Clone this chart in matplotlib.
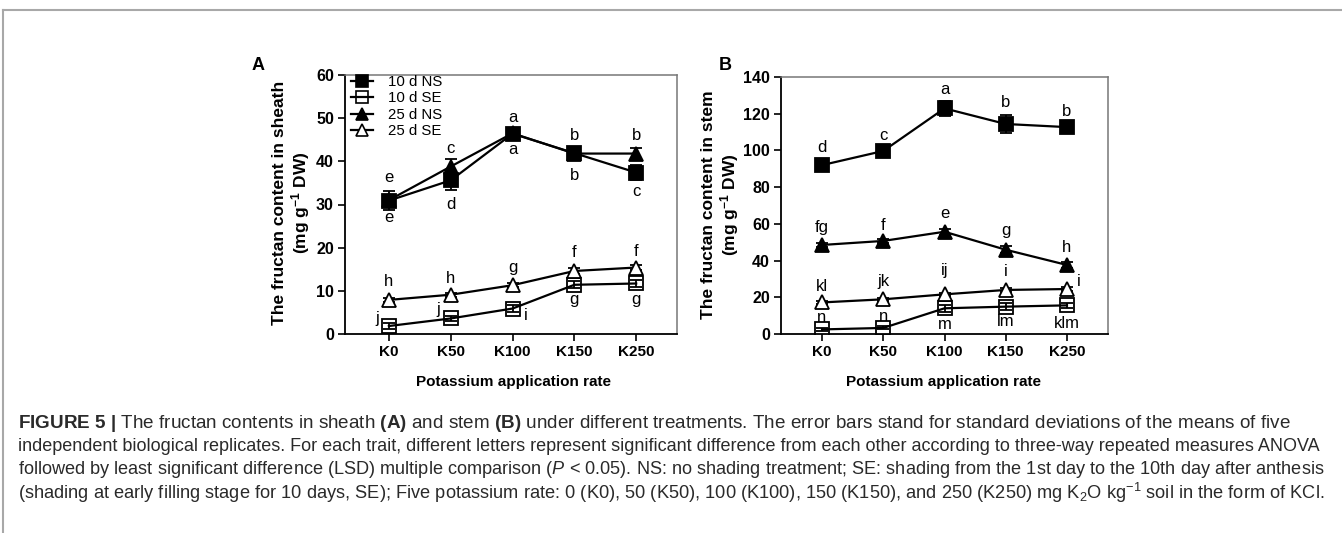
import matplotlib
matplotlib.use("Agg")
import matplotlib.pyplot as plt
from matplotlib.lines import Line2D
import numpy as np

plt.rcParams['font.family'] = ['Liberation Sans', 'DejaVu Sans']
plt.rcParams['mathtext.fontset'] = 'custom'
plt.rcParams['mathtext.rm'] = 'Liberation Sans'
plt.rcParams['mathtext.it'] = 'Liberation Sans:italic'
plt.rcParams['mathtext.bf'] = 'Liberation Sans:bold'

# datos
categorias = ["K0", "K50", "K100", "K150", "K250"]
series = ["10 d NS", "10 d SE", "25 d NS", "25 d SE"]

# vaina (A)
a_10ns = [30.9, 35.6, 46.4, 41.9, 37.4]
a_10ns_sd = [2.2, 2.2, 0.8, 0.8, 1.7]
a_10se = [1.85, 3.6, 5.9, 11.4, 11.7]
a_10se_sd = [0.6, 0.5, 0.8, 0.8, 0.7]
a_25ns = [31.0, 38.8, 46.5, 41.8, 41.8]
a_25ns_sd = [1.0, 1.8, 0.6, 0.6, 1.4]
a_25se = [7.9, 9.1, 11.3, 14.6, 15.4]
a_25se_sd = [0.5, 0.5, 0.5, 0.6, 0.6]

a_10ns_let = ["e", "d", "a", "b", "c"]
a_10se_let = ["j", "j", "i", "g", "g"]
a_25ns_let = ["e", "c", "a", "b", "b"]
a_25se_let = ["h", "h", "g", "f", "f"]

# tallo (B)
b_10ns = [92.0, 99.7, 122.9, 114.4, 112.7]
b_10ns_sd = [1.0, 1.0, 4.2, 5.0, 1.0]
b_10se = [2.5, 3.3, 14.0, 14.9, 15.6]
b_10se_sd = [0.8, 0.8, 2.0, 2.0, 1.5]
b_25ns = [48.5, 50.7, 55.7, 45.9, 37.6]
b_25ns_sd = [1.2, 1.2, 1.6, 1.8, 1.6]
b_25se = [17.2, 18.9, 21.6, 24.0, 24.5]
b_25se_sd = [0.8, 0.8, 0.8, 1.0, 1.0]

b_10ns_let = ["d", "c", "a", "b", "b"]
b_10se_let = ["n", "n", "m", "lm", "klm"]
b_25ns_let = ["fg", "f", "e", "g", "h"]
b_25se_let = ["kl", "jk", "ij", "i", "i"]

# estilos por serie
estilos = {
    "10 d NS": dict(marker='s', mfc='black', mec='black'),
    "10 d SE": dict(marker='s', mfc='none', mec='black'),
    "25 d NS": dict(marker='^', mfc='black', mec='black'),
    "25 d SE": dict(marker='^', mfc='white', mec='black'),
}

fig = plt.figure(figsize=(13.42, 5.33), dpi=100)
W, H = 1342, 533


def fx(px):
    return px / W


def fy(py):
    return 1 - py / H


def dibujar_panel(ax, datos, letras, offsets):
    x = np.arange(len(categorias))
    for nombre in series:
        y, sd = datos[nombre]
        est = estilos[nombre]
        ax.errorbar(x, y, yerr=sd, color='black', lw=1.6, capsize=4.5,
                    capthick=1.3, elinewidth=1.3, marker=est['marker'],
                    ms=9.5, mfc=est['mfc'], mec=est['mec'], mew=1.3, zorder=3)
        for xi, yi, letra, (dx, dy) in zip(x, y, letras[nombre], offsets[nombre]):
            ax.annotate(letra, (xi, yi), xytext=(dx, dy), textcoords='offset pixels',
                        ha='center', va='center', fontsize=12, zorder=4)
    ax.set_xticks(x)
    ax.set_xticklabels(categorias, fontsize=11, fontweight='bold')
    ax.tick_params(axis='both', direction='out', length=5, width=1.2, labelsize=11, pad=3)
    ax.tick_params(axis='y', labelsize=11.5)
    for lab in ax.get_yticklabels():
        lab.set_fontweight('bold')
    ax.spines['left'].set_linewidth(1.3)
    ax.spines['bottom'].set_linewidth(1.3)
    for s in ['top', 'right']:
        ax.spines[s].set_color('#777777')
        ax.spines[s].set_linewidth(1.1)


# Panel A
axA = fig.add_axes([fx(345), fy(334), fx(677 - 345), (334 - 75) / H])
datosA = {"10 d NS": (a_10ns, a_10ns_sd), "10 d SE": (a_10se, a_10se_sd),
          "25 d NS": (a_25ns, a_25ns_sd), "25 d SE": (a_25se, a_25se_sd)}
letrasA = {"10 d NS": a_10ns_let, "10 d SE": a_10se_let,
           "25 d NS": a_25ns_let, "25 d SE": a_25se_let}
offA = {"10 d NS": [(0, -17), (0, -24), (0, -16), (0, -22), (0, -19)],
        "10 d SE": [(-12, 8), (-12, 9), (13, -7), (0, -15), (0, -16)],
        "25 d NS": [(0, 23), (0, 18), (0, 16), (0, 18), (0, 18)],
        "25 d SE": [(0, 18), (0, 16), (0, 18), (0, 18), (0, 16)]}
axA.set_ylim(0, 60)
axA.set_yticks([0, 10, 20, 30, 40, 50, 60])
axA.set_xlim(-0.71, 4.66)
dibujar_panel(axA, datosA, letrasA, offA)

# leyenda sin barras de error
manijas = [Line2D([], [], color='black', lw=1.6, marker=estilos[n]['marker'], ms=8.5,
                  mfc=estilos[n]['mfc'], mec='black', mew=1.2) for n in series]
axA.legend(manijas, series, loc='upper left', bbox_to_anchor=(fx(351), fy(75)),
           bbox_transform=fig.transFigure, frameon=False, fontsize=10.8,
           handlelength=1.5, handletextpad=1.0, labelspacing=0.16,
           borderaxespad=0, borderpad=0)

# Panel B
axB = fig.add_axes([fx(781), fy(334), fx(1108 - 781), (334 - 77) / H])
datosB = {"10 d NS": (b_10ns, b_10ns_sd), "10 d SE": (b_10se, b_10se_sd),
          "25 d NS": (b_25ns, b_25ns_sd), "25 d SE": (b_25se, b_25se_sd)}
letrasB = {"10 d NS": b_10ns_let, "10 d SE": b_10se_let,
           "25 d NS": b_25ns_let, "25 d SE": b_25se_let}
offB = {"10 d NS": [(0, 18), (0, 15), (0, 19), (0, 21), (0, 16)],
        "10 d SE": [(0, 12), (0, 11), (0, -16), (0, -15), (0, -18)],
        "25 d NS": [(0, 17), (0, 15), (0, 18), (0, 19), (0, 17)],
        "25 d SE": [(0, 16), (0, 18), (0, 24), (0, 18), (12, 8)]}
axB.set_ylim(0, 140)
axB.set_yticks([0, 20, 40, 60, 80, 100, 120, 140])
axB.set_xlim(-0.67, 4.67)
dibujar_panel(axB, datosB, letrasB, offB)

# etiquetas de ejes
fig.text(fx(292), fy(203), "The fructan content in sheath\n(mg g$^{\\mathbf{-1}}$ DW)",
         rotation=90, ha='center', va='center', fontsize=12.5, fontweight='bold',
         linespacing=1.1, multialignment='center')
fig.text(fx(721), fy(205), "The fructan content in stem\n(mg g$^{\\mathbf{-1}}$ DW)",
         rotation=90, ha='center', va='center', fontsize=12.5, fontweight='bold',
         linespacing=1.1, multialignment='center')
fig.text(fx(513), fy(382), "Potassium application rate", ha='center', va='center',
         fontsize=11, fontweight='bold')
fig.text(fx(944), fy(382), "Potassium application rate", ha='center', va='center',
         fontsize=11, fontweight='bold')
fig.text(fx(258), fy(65), "A", ha='center', va='center', fontsize=13, fontweight='bold')
fig.text(fx(725), fy(65), "B", ha='center', va='center', fontsize=13, fontweight='bold')

# leyenda de la figura
lineas = [
    r"$\mathbf{FIGURE\ 5\ |}$ The fructan contents in sheath $\mathbf{(A)}$ and stem $\mathbf{(B)}$ under different treatments. The error bars stand for standard deviations of the means of five",
    "independent biological replicates. For each trait, different letters represent significant difference from each other according to three-way repeated measures ANOVA",
    r"followed by least significant difference (LSD) multiple comparison ($\mathit{P}$ < 0.05). NS: no shading treatment; SE: shading from the 1st day to the 10th day after anthesis",
    r"(shading at early filling stage for 10 days, SE); Five potassium rate: 0 (K0), 50 (K50), 100 (K100), 150 (K150), and 250 (K250) mg K$_2$O kg$^{-1}$ soil in the form of KCl.",
]
bordes_der = [1292, 1325, 1325, 1322]
renderer = fig.canvas.get_renderer()
for i, t in enumerate(lineas):
    txt = fig.text(fx(18), fy(423 + i * 23.3), t, ha='left', va='center', fontsize=12,
                   color='#2a2a2a')
    ancho = txt.get_window_extent(renderer).width
    txt.set_fontsize(12 * (bordes_der[i] - 18) / ancho)

# marco exterior
fig.add_artist(Line2D([fx(3), 1], [fy(10), fy(10)], color='#a8a8a8', lw=1.5))
fig.add_artist(Line2D([fx(3), fx(3)], [fy(10), 0], color='#a8a8a8', lw=1.5))

fig.savefig("out.png", dpi=100)
